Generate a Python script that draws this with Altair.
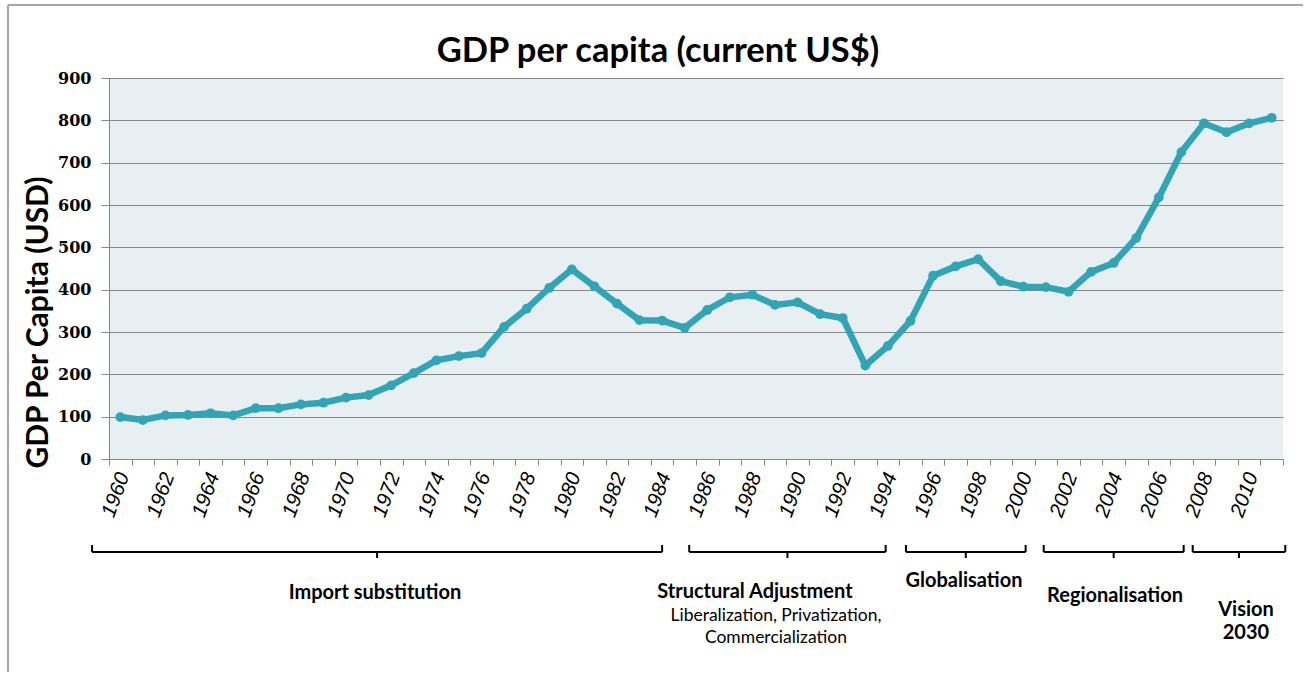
import altair as alt
import pandas as pd

# ---------------- data ----------------
years = list(range(1960, 2012))
gdp = [99, 92, 103, 104, 108, 103, 120, 120, 129, 133,
       145, 151, 174, 203, 233, 243, 250, 312, 355, 404,
       448, 408, 367, 328, 327, 310, 352, 382, 388, 364,
       370, 342, 333, 221, 267, 326, 433, 455, 472, 420,
       407, 406, 395, 442, 463, 522, 618, 725, 793, 772,
       793, 806]

y_ticks = [0, 100, 200, 300, 400, 500, 600, 700, 800, 900]

phase_names = ["Import substitution", "Structural Adjustment", "Globalisation",
               "Regionalisation", "Vision 2030"]
phase_start = [1958.75, 1985.2, 1994.8, 2000.9, 2007.5]
phase_end = [1984.0, 1993.9, 2000.1, 2007.1, 2011.6]

note_text = ["Import substitution", "Structural Adjustment",
             "Liberalization, Privatization,", "Commercialization",
             "Globalisation", "Regionalisation", "Vision", "2030"]
note_year = [1971.28, 1988.11, 1989.04, 1989.04, 1997.37, 2004.06, 2009.86, 2009.86]

title_text = "GDP per capita (current US$)"
y_title = "GDP Per Capita (USD)"

# ---------------- layout / style ----------------
W, H = 1174, 381
LEFT, TOP = 109, 78
half_band = W / len(years) / 2
TEAL = "#31a4b6"
GRID = "#878787"
FONT = "Lato"

df = pd.DataFrame({"year": years, "gdp": gdp})
phases = pd.DataFrame({"name": phase_names, "start": phase_start, "end": phase_end})
phases["mid"] = (phases["start"] + phases["end"]) / 2
notes = pd.DataFrame({"text": note_text, "year": note_year})

xscale = alt.Scale(domain=[years[0] - 0.5, years[-1] + 0.5], nice=False, zero=False)
yscale = alt.Scale(domain=[0, 900], nice=False)
boundaries = [years[0] - 0.5 + i for i in range(len(years) + 1)]

label_expr = ("datum.value < %d && (datum.value + 0.5) %% 2 == 0 ? "
              "format(datum.value + 0.5, 'd') : ''") % years[-1]

x_axis = alt.Axis(values=boundaries, labelExpr=label_expr, labelOffset=half_band + 3,
                  labelAngle=-70, labelAlign="right", labelBaseline="middle",
                  labelFont="Liberation Sans", labelFontStyle="italic", labelFontSize=20.5,
                  labelColor="black", labelOverlap=False, labelFlush=False,
                  labelPadding=8, tickSize=6, tickColor=GRID, domainColor=GRID,
                  domainWidth=1, grid=False, title=None)

y_axis = alt.Axis(values=y_ticks, grid=True, gridColor=GRID, gridWidth=1,
                  gridOpacity=1, domainColor=GRID, tickColor=GRID, tickSize=8,
                  labelFont="DejaVu Serif", labelFontWeight="bold", labelFontSize=16,
                  labelColor="black", labelPadding=10,
                  title=y_title, titleFont=FONT, titleFontSize=30,
                  titleFontWeight="bold", titleColor="black",
                  titleX=38 - LEFT, titleY=322 - TOP, titleAngle=270,
                  titleAlign="center", titleBaseline="middle")

line = alt.Chart(df).mark_line(
    color=TEAL, strokeWidth=6.5,
    point=alt.OverlayMarkDef(filled=True, size=95, color=TEAL)
).encode(
    x=alt.X("year:Q", scale=xscale, axis=x_axis),
    y=alt.Y("gdp:Q", scale=yscale, axis=y_axis),
)

BY = 552 - TOP
bx = lambda f: alt.X(f, scale=xscale, axis=x_axis)

br_h = alt.Chart(phases).mark_rule(color="black", strokeWidth=2).encode(
    x=bx("start:Q"), x2="end:Q", y=alt.value(BY))
br_l = alt.Chart(phases).mark_rule(color="black", strokeWidth=2).encode(
    x=bx("start:Q"), y=alt.value(BY - 7), y2=alt.value(BY))
br_r = alt.Chart(phases).mark_rule(color="black", strokeWidth=2).encode(
    x=bx("end:Q"), y=alt.value(BY - 7), y2=alt.value(BY))
br_m = alt.Chart(phases).mark_rule(color="black", strokeWidth=2).encode(
    x=bx("mid:Q"), y=alt.value(BY), y2=alt.value(BY + 6))

BOLD, SMALL = 20, 17.5
note_style = {
    "Import substitution": (593, BOLD, "bold"),
    "Structural Adjustment": (592, BOLD, "bold"),
    "Liberalization, Privatization,": (616, SMALL, "normal"),
    "Commercialization": (638, SMALL, "normal"),
    "Globalisation": (581, BOLD, "bold"),
    "Regionalisation": (596, BOLD, "bold"),
    "Vision": (610, BOLD, "bold"),
    "2030": (633, BOLD, "bold"),
}
note_layers = []
for t in note_text:
    yy, fs, fw = note_style[t]
    note_layers.append(
        alt.Chart(notes).transform_filter(alt.datum.text == t).mark_text(
            font=FONT, fontSize=fs, fontWeight=fw, color="black",
            align="center", baseline="middle"
        ).encode(x=bx("year:Q"), y=alt.value(yy - TOP), text="text:N")
    )

title = alt.Chart(pd.DataFrame({"t": [title_text]})).mark_text(
    font=FONT, fontSize=34.5, fontWeight="bold", color="black",
    align="center", baseline="middle"
).encode(x=alt.value(658 - LEFT), y=alt.value(52 - TOP), text="t:N")

frame_l = alt.Chart(pd.DataFrame({"a": [0]})).mark_rule(color="#a6a6a6", strokeWidth=2).encode(
    x=alt.value(8 - LEFT), y=alt.value(5 - TOP), y2=alt.value(672 - TOP))
frame_t = alt.Chart(pd.DataFrame({"a": [0]})).mark_rule(color="#a6a6a6", strokeWidth=2).encode(
    x=alt.value(8 - LEFT), x2=alt.value(1303 - LEFT), y=alt.value(5 - TOP))

chart = alt.layer(
    line, br_h, br_l, br_r, br_m, *note_layers, title, frame_l, frame_t
).properties(
    width=W, height=H,
    autosize=alt.AutoSizeParams(type="none"),
    padding={"left": LEFT, "top": TOP, "right": 1308 - LEFT - W, "bottom": 675 - TOP - H},
    background="white",
).configure_view(fill="#e8eff3", stroke=None)

chart.save("out.html", embed_options={"renderer": "svg", "actions": False})
